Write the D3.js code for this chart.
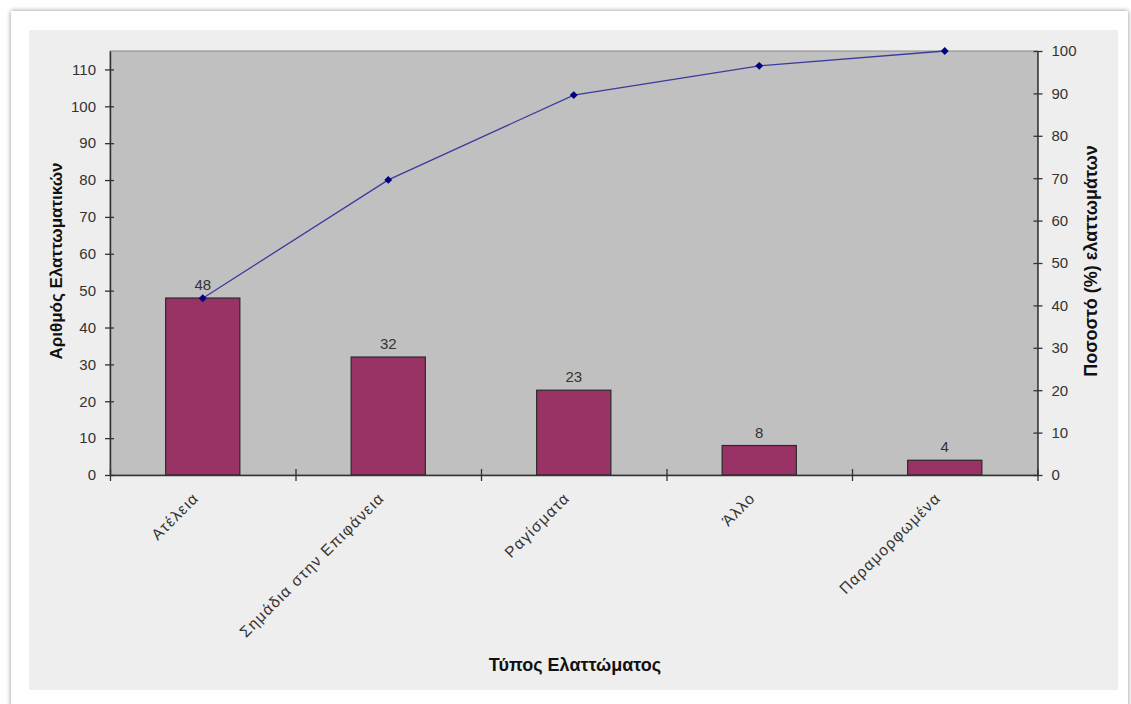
<!DOCTYPE html>
<html>
<head>
<meta charset="utf-8">
<script src="https://cdn.jsdelivr.net/npm/d3@7"></script>
<style>
  html, body { margin: 0; padding: 0; background: #ffffff; }
  svg { display: block; }
  text { font-family: "Liberation Sans", Arial, sans-serif; }
</style>
</head>
<body>
<svg id="chart" width="1131" height="704"></svg>
<script>
// Defect categories (Pareto order) and counts
const categories = ["Ατέλεια", "Σημάδια στην Επιφάνεια", "Ραγίσματα", "Άλλο", "Παραμορφωμένα"];
const counts = [48, 32, 23, 8, 4];
// Cumulative share of defects, in percent
const cumulativePct = [41.7, 69.6, 89.6, 96.5, 100];
const leftTicks = [0, 10, 20, 30, 40, 50, 60, 70, 80, 90, 100, 110];
const rightTicks = [0, 10, 20, 30, 40, 50, 60, 70, 80, 90, 100];

const svg = d3.select("#chart");

// page card with soft shadow
const defs = svg.append("defs");
const f = defs.append("filter").attr("id", "shadow").attr("x", "-5%").attr("y", "-5%").attr("width", "110%").attr("height", "110%");
f.append("feGaussianBlur").attr("in", "SourceAlpha").attr("stdDeviation", 2.5);
f.append("feOffset").attr("dx", 0).attr("dy", 0).attr("result", "b");
f.append("feComponentTransfer").append("feFuncA").attr("type", "linear").attr("slope", 0.45);
const m = f.append("feMerge");
m.append("feMergeNode");
m.append("feMergeNode").attr("in", "SourceGraphic");

svg.append("rect").attr("x", 11).attr("y", 11).attr("width", 1117).attr("height", 700)
  .attr("fill", "#ffffff").attr("filter", "url(#shadow)");

// chart area background
svg.append("rect").attr("x", 29).attr("y", 30).attr("width", 1089).attr("height", 660)
  .attr("fill", "#eeeeee");

const plot = { left: 110, right: 1037.5, top: 51, bottom: 475 };

const x = d3.scaleBand().domain(categories)
  .range([plot.left, plot.right]).paddingInner(0.6).paddingOuter(0.3);
const xEdge = d3.scaleLinear().domain([0, categories.length]).range([plot.left, plot.right]);
const yL = d3.scaleLinear().domain([0, 115]).range([plot.bottom, plot.top]);
const yR = d3.scaleLinear().domain([0, 100]).range([plot.bottom, plot.top]);

// plot area
svg.append("rect")
  .attr("x", plot.left).attr("y", plot.top)
  .attr("width", plot.right - plot.left).attr("height", plot.bottom - plot.top)
  .attr("fill", "#c0c0c0").attr("stroke", "#8a8a8a").attr("stroke-width", 1);

// bars
svg.append("g").selectAll("rect").data(counts).join("rect")
  .attr("x", (d, i) => x(categories[i]))
  .attr("y", d => yL(d))
  .attr("width", x.bandwidth())
  .attr("height", d => yL(0) - yL(d))
  .attr("fill", "#993366")
  .attr("stroke", "#2a2a2a").attr("stroke-width", 1.2);

// value labels
svg.append("g").selectAll("text").data(counts).join("text")
  .attr("x", (d, i) => x(categories[i]) + x.bandwidth() / 2)
  .attr("y", d => yL(d) - 8)
  .attr("text-anchor", "middle")
  .attr("font-size", 15)
  .attr("fill", "#333333")
  .text(d => d);

// axis styling helper: ticks crossing the axis line
function styleAxis(g, cross) {
  g.select(".domain").attr("stroke", "#333333").attr("stroke-width", 1.5);
  g.selectAll(".tick line").attr("stroke", "#333333").attr("stroke-width", 1.3);
  g.selectAll(".tick text").attr("fill", "#333333").attr("font-size", 15)
    .attr("font-family", "\"Liberation Sans\", Arial, sans-serif");
  cross(g.selectAll(".tick line"));
}

// left axis
const gL = svg.append("g").attr("transform", `translate(${plot.left},0)`)
  .call(d3.axisLeft(yL).tickValues(leftTicks).tickSizeOuter(0).tickSizeInner(5).tickPadding(9));
styleAxis(gL, l => l.attr("x1", 4).attr("x2", -5));

// right axis
const gR = svg.append("g").attr("transform", `translate(${plot.right},0)`)
  .call(d3.axisRight(yR).tickValues(rightTicks).tickSizeOuter(0).tickSizeInner(5).tickPadding(9));
styleAxis(gR, l => l.attr("x1", -4).attr("x2", 5));

// bottom axis (ticks at category boundaries)
const gB = svg.append("g").attr("transform", `translate(0,${plot.bottom})`)
  .call(d3.axisBottom(xEdge).tickValues(d3.range(0, categories.length + 1)).tickFormat("").tickSizeOuter(0).tickSizeInner(6));
styleAxis(gB, l => l.attr("y1", -6).attr("y2", 6));

// category labels, rotated
svg.append("g").selectAll("text").data(categories).join("text")
  .attr("transform", d => `translate(${x(d) + x.bandwidth() / 2 - 3},${plot.bottom + 24}) rotate(-45)`)
  .attr("text-anchor", "end")
  .attr("font-size", 15.5)
  .attr("letter-spacing", 1.3)
  .attr("fill", "#333333")
  .text(d => d);

// cumulative percentage line
const line = d3.line()
  .x((d, i) => x(categories[i]) + x.bandwidth() / 2)
  .y(d => yR(d));
svg.append("path").datum(cumulativePct)
  .attr("d", line).attr("fill", "none")
  .attr("stroke", "#3b3b9e").attr("stroke-width", 1.3);

svg.append("g").selectAll("path").data(cumulativePct).join("path")
  .attr("d", d3.symbol(d3.symbolDiamond2, 40))
  .attr("transform", (d, i) => `translate(${x(categories[i]) + x.bandwidth() / 2},${yR(d)})`)
  .attr("fill", "#000080");

// axis titles
svg.append("text")
  .attr("transform", `translate(62,261) rotate(-90)`)
  .attr("text-anchor", "middle").attr("font-size", 17).attr("font-weight", "bold").attr("fill", "#111")
  .text("Αριθμός Ελαττωματικών");

svg.append("text")
  .attr("transform", `translate(1097,261) rotate(-90)`)
  .attr("text-anchor", "middle").attr("font-size", 18).attr("font-weight", "bold").attr("fill", "#111")
  .text("Ποσοστό (%) ελαττωμάτων");

svg.append("text")
  .attr("x", 575).attr("y", 671)
  .attr("text-anchor", "middle").attr("font-size", 18).attr("font-weight", "bold").attr("fill", "#111")
  .text("Τύπος Ελαττώματος");
</script>
</body>
</html>
